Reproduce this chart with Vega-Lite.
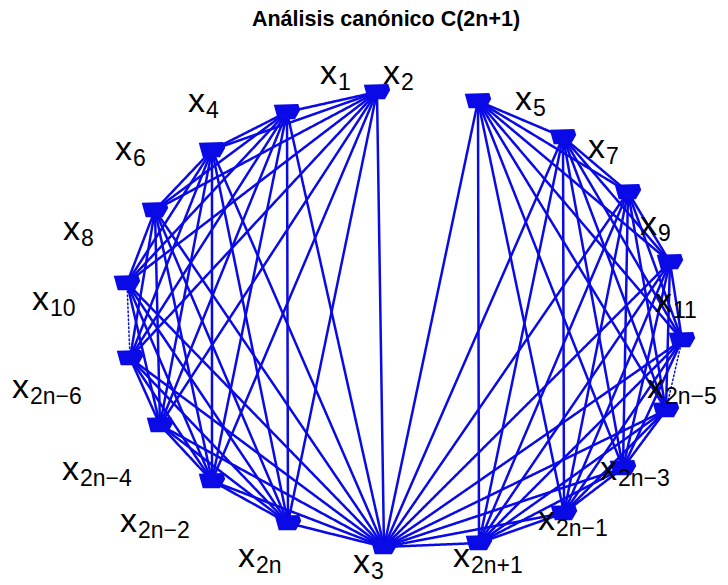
{
  "$schema": "https://vega.github.io/schema/vega-lite/v6.json",
  "width": 728,
  "height": 545,
  "autosize": {"type": "none"},
  "padding": {"top": 40, "left": 0, "right": 0, "bottom": 0},
  "background": "white",
  "config": {"view": {"stroke": null}},
  "title": {"text": "Análisis canónico C(2n+1)", "font": "Liberation Sans", "fontSize": 21.5, "fontWeight": "bold", "color": "black", "anchor": "middle", "dx": 22, "offset": 10},
  "datasets": {
    "nodes": [
      {"id": 1, "u": 0.2607, "v": 0.9605},
      {"id": 2, "u": -0.1, "v": 1.0},
      {"id": 3, "u": -0.075, "v": -0.9956},
      {"id": 4, "u": -0.4214, "v": 0.9123},
      {"id": 5, "u": 0.5643, "v": 0.8026},
      {"id": 6, "u": -0.6893, "v": 0.7456},
      {"id": 7, "u": 0.7964, "v": 0.5614},
      {"id": 8, "u": -0.8929, "v": 0.4825},
      {"id": 9, "u": 0.9464, "v": 0.2544},
      {"id": 10, "u": -0.9929, "v": 0.1623},
      {"id": 11, "u": 0.9893, "v": -0.0877},
      {"id": 12, "u": -0.9821, "v": -0.1667},
      {"id": 13, "u": 0.9321, "v": -0.3947},
      {"id": 14, "u": -0.875, "v": -0.4605},
      {"id": 15, "u": 0.7786, "v": -0.6491},
      {"id": 16, "u": -0.6893, "v": -0.7061},
      {"id": 17, "u": 0.5679, "v": -0.8465},
      {"id": 18, "u": -0.4179, "v": -0.8904},
      {"id": 19, "u": 0.2643, "v": -0.9781}
    ],
    "labels": [
      {"sub": "1", "lu": -0.3036, "lv": 1.0351},
      {"sub": "2", "lu": -0.0786, "lv": 1.0351},
      {"sub": "4", "lu": -0.775, "lv": 0.9123},
      {"sub": "6", "lu": -1.0357, "lv": 0.7018},
      {"sub": "8", "lu": -1.2214, "lv": 0.3509},
      {"sub": "10", "lu": -1.3321, "lv": 0.0439},
      {"sub": "2n−6", "lu": -1.4036, "lv": -0.3421},
      {"sub": "2n−4", "lu": -1.225, "lv": -0.7018},
      {"sub": "2n−2", "lu": -1.0179, "lv": -0.9298},
      {"sub": "2n", "lu": -0.5964, "lv": -1.0833},
      {"sub": "3", "lu": -0.1857, "lv": -1.1096},
      {"sub": "2n+1", "lu": 0.1714, "lv": -1.0833},
      {"sub": "2n−1", "lu": 0.475, "lv": -0.9211},
      {"sub": "2n−3", "lu": 0.6964, "lv": -0.7018},
      {"sub": "2n−5", "lu": 0.8643, "lv": -0.3421},
      {"sub": "11", "lu": 0.8929, "lv": 0.0351},
      {"sub": "9", "lu": 0.8393, "lv": 0.3728},
      {"sub": "7", "lu": 0.6536, "lv": 0.7105},
      {"sub": "5", "lu": 0.3929, "lv": 0.9211}
    ],
    "edges": [
      {"s": 2, "t": 3, "k": "line"}, {"s": 2, "t": 4, "k": "line"}, {"s": 2, "t": 6, "k": "line"}, {"s": 2, "t": 8, "k": "line"}, {"s": 2, "t": 10, "k": "line"}, {"s": 2, "t": 12, "k": "line"}, {"s": 2, "t": 14, "k": "line"}, {"s": 2, "t": 16, "k": "line"}, {"s": 2, "t": 18, "k": "line"},
      {"s": 3, "t": 4, "k": "line"}, {"s": 3, "t": 6, "k": "line"}, {"s": 3, "t": 8, "k": "line"}, {"s": 3, "t": 10, "k": "line"}, {"s": 3, "t": 12, "k": "line"}, {"s": 3, "t": 14, "k": "line"}, {"s": 3, "t": 16, "k": "line"}, {"s": 3, "t": 18, "k": "line"},
      {"s": 4, "t": 6, "k": "line"}, {"s": 4, "t": 8, "k": "line"}, {"s": 4, "t": 10, "k": "line"}, {"s": 4, "t": 12, "k": "line"}, {"s": 4, "t": 14, "k": "line"}, {"s": 4, "t": 16, "k": "line"}, {"s": 4, "t": 18, "k": "line"},
      {"s": 6, "t": 8, "k": "line"}, {"s": 6, "t": 10, "k": "line"}, {"s": 6, "t": 12, "k": "line"}, {"s": 6, "t": 14, "k": "line"}, {"s": 6, "t": 16, "k": "line"}, {"s": 6, "t": 18, "k": "line"},
      {"s": 8, "t": 10, "k": "line"}, {"s": 8, "t": 12, "k": "line"}, {"s": 8, "t": 14, "k": "line"}, {"s": 8, "t": 16, "k": "line"}, {"s": 8, "t": 18, "k": "line"},
      {"s": 10, "t": 14, "k": "line"}, {"s": 10, "t": 16, "k": "line"}, {"s": 10, "t": 18, "k": "line"},
      {"s": 12, "t": 14, "k": "line"}, {"s": 12, "t": 16, "k": "line"}, {"s": 12, "t": 18, "k": "line"},
      {"s": 14, "t": 16, "k": "line"}, {"s": 14, "t": 18, "k": "line"},
      {"s": 16, "t": 18, "k": "line"},
      {"s": 10, "t": 12, "k": "dots"},
      {"s": 1, "t": 3, "k": "line"}, {"s": 1, "t": 5, "k": "line"}, {"s": 1, "t": 7, "k": "line"}, {"s": 1, "t": 9, "k": "line"}, {"s": 1, "t": 11, "k": "line"}, {"s": 1, "t": 13, "k": "line"}, {"s": 1, "t": 15, "k": "line"}, {"s": 1, "t": 17, "k": "line"}, {"s": 1, "t": 19, "k": "line"},
      {"s": 3, "t": 5, "k": "line"}, {"s": 3, "t": 7, "k": "line"}, {"s": 3, "t": 9, "k": "line"}, {"s": 3, "t": 11, "k": "line"}, {"s": 3, "t": 13, "k": "line"}, {"s": 3, "t": 15, "k": "line"}, {"s": 3, "t": 17, "k": "line"}, {"s": 3, "t": 19, "k": "line"},
      {"s": 5, "t": 7, "k": "line"}, {"s": 5, "t": 9, "k": "line"}, {"s": 5, "t": 11, "k": "line"}, {"s": 5, "t": 13, "k": "line"}, {"s": 5, "t": 15, "k": "line"}, {"s": 5, "t": 17, "k": "line"}, {"s": 5, "t": 19, "k": "line"},
      {"s": 7, "t": 9, "k": "line"}, {"s": 7, "t": 11, "k": "line"}, {"s": 7, "t": 13, "k": "line"}, {"s": 7, "t": 15, "k": "line"}, {"s": 7, "t": 17, "k": "line"}, {"s": 7, "t": 19, "k": "line"},
      {"s": 9, "t": 11, "k": "line"}, {"s": 9, "t": 13, "k": "line"}, {"s": 9, "t": 15, "k": "line"}, {"s": 9, "t": 17, "k": "line"}, {"s": 9, "t": 19, "k": "line"},
      {"s": 11, "t": 15, "k": "line"}, {"s": 11, "t": 17, "k": "line"}, {"s": 11, "t": 19, "k": "line"},
      {"s": 13, "t": 15, "k": "line"}, {"s": 13, "t": 17, "k": "line"}, {"s": 13, "t": 19, "k": "line"},
      {"s": 15, "t": 17, "k": "line"}, {"s": 15, "t": 19, "k": "line"},
      {"s": 17, "t": 19, "k": "line"},
      {"s": 11, "t": 13, "k": "dots"}
    ]
  },
  "layer": [
    {
      "data": {"name": "edges"},
      "transform": [
        {"lookup": "s", "from": {"data": {"name": "nodes"}, "key": "id", "fields": ["u", "v"]}, "as": ["su", "sv"]},
        {"lookup": "t", "from": {"data": {"name": "nodes"}, "key": "id", "fields": ["u", "v"]}, "as": ["tu", "tv"]}
      ],
      "mark": {"type": "rule", "color": "#0a0ae6", "strokeCap": "round"},
      "encoding": {
        "x": {"field": "su", "type": "quantitative", "scale": {"domain": [-1.4464, 1.1536], "nice": false, "zero": false}, "axis": null},
        "y": {"field": "sv", "type": "quantitative", "scale": {"domain": [-1.1623, 1.2281], "nice": false, "zero": false}, "axis": null},
        "x2": {"field": "tu"},
        "y2": {"field": "tv"},
        "strokeDash": {"field": "k", "type": "nominal", "scale": {"domain": ["line", "dots"], "range": [[1, 0], [1.5, 2.5]]}, "legend": null},
        "strokeWidth": {"field": "k", "type": "nominal", "scale": {"domain": ["line", "dots"], "range": [2.5, 1.5]}, "legend": null}
      }
    },
    {
      "data": {"name": "nodes"},
      "mark": {"type": "point", "filled": true, "color": "#0a0ae6", "opacity": 1, "shape": "M-1,-0.55L0.85,-0.6L1,-0.15L0.6,0.55L-0.7,0.55Z", "size": 700},
      "encoding": {
        "x": {"field": "u", "type": "quantitative", "scale": {"domain": [-1.4464, 1.1536], "nice": false, "zero": false}, "axis": null},
        "y": {"field": "v", "type": "quantitative", "scale": {"domain": [-1.1623, 1.2281], "nice": false, "zero": false}, "axis": null}
      }
    },
    {
      "data": {"name": "labels"},
      "mark": {"type": "text", "align": "left", "baseline": "alphabetic", "font": "Liberation Sans", "fontSize": 34, "color": "black", "text": "x"},
      "encoding": {
        "x": {"field": "lu", "type": "quantitative", "scale": {"domain": [-1.4464, 1.1536], "nice": false, "zero": false}, "axis": null},
        "y": {"field": "lv", "type": "quantitative", "scale": {"domain": [-1.1623, 1.2281], "nice": false, "zero": false}, "axis": null}
      }
    },
    {
      "data": {"name": "labels"},
      "mark": {"type": "text", "align": "left", "baseline": "alphabetic", "font": "Liberation Sans", "fontSize": 23, "color": "black", "dx": 18, "dy": 6},
      "encoding": {
        "x": {"field": "lu", "type": "quantitative", "scale": {"domain": [-1.4464, 1.1536], "nice": false, "zero": false}, "axis": null},
        "y": {"field": "lv", "type": "quantitative", "scale": {"domain": [-1.1623, 1.2281], "nice": false, "zero": false}, "axis": null},
        "text": {"field": "sub", "type": "nominal"}
      }
    }
  ]
}
